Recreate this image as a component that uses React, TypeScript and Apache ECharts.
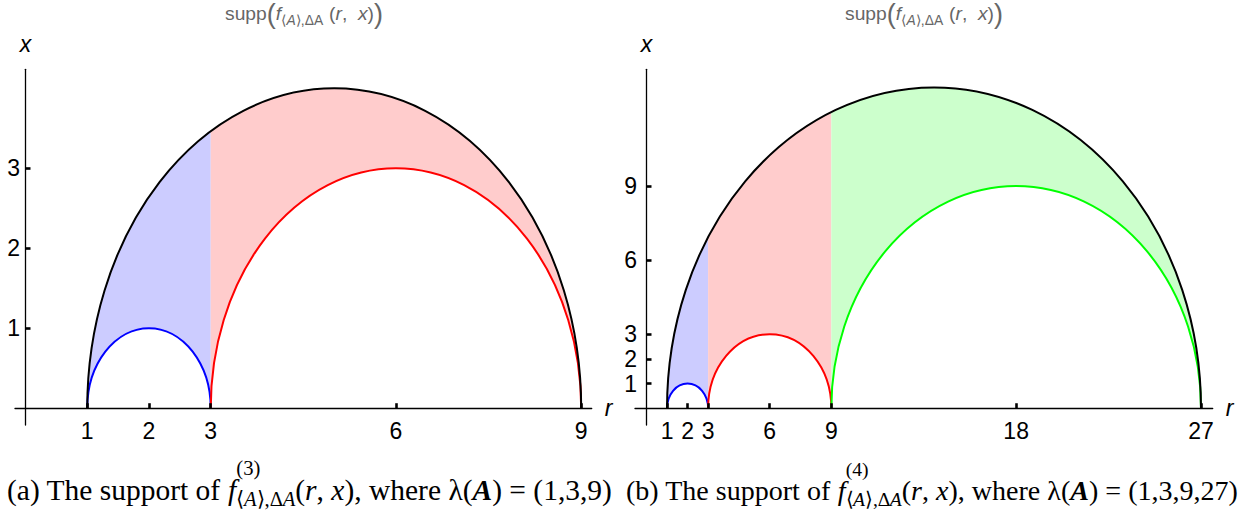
import React, { useEffect, useRef } from "react";
import * as echarts from "echarts";

// λ(A) break points of the two panels
const lambdaA = [1, 3, 9];
const lambdaB = [1, 3, 9, 27];
// tick labels
const rTicksA = [1, 2, 3, 6, 9];
const xTicksA = [1, 2, 3];
const rTicksB = [1, 2, 3, 6, 9, 18, 27];
const xTicksB = [1, 2, 3, 6, 9];

const FILLS = ["#ccccff", "#ffcccc", "#ccffcc"];
const LINES = ["#0000ff", "#ff0000", "#00ff00"];

type Piece = { t: string; s?: number; i?: boolean; b?: boolean; dy?: number; sup?: boolean; endSub?: boolean };

const titlePieces: Piece[] = [
  { t: "supp" },
  { t: "(", s: 1.4, dy: 0.14 },
  { t: "f", i: true },
  { t: "⟨", s: 0.72, dy: 0.22 },
  { t: "A", s: 0.72, i: true, dy: 0.22 },
  { t: "⟩,ΔA", s: 0.72, dy: 0.22 },
  { t: " (" },
  { t: "r", i: true },
  { t: ",  " },
  { t: "x", i: true },
  { t: ")" },
  { t: ")", s: 1.4, dy: 0.14 },
];

const captionPieces = (label: string, n: string, lam: string): Piece[] => [
  { t: `(${label}) The support of ` },
  { t: "f", i: true },
  { t: `(${n})`, s: 0.7, dy: -0.85, sup: true },
  { t: "⟨", s: 0.7, dy: 0.22 },
  { t: "A", s: 0.7, i: true, dy: 0.22 },
  { t: "⟩,Δ", s: 0.7, dy: 0.22 },
  { t: "A", s: 0.7, i: true, dy: 0.22, endSub: true },
  { t: "(" },
  { t: "r", i: true },
  { t: ", " },
  { t: "x", i: true },
  { t: "), where " },
  { t: "λ" },
  { t: "(" },
  { t: "A", i: true, b: true },
  { t: ") = (" + lam + ")" },
];

function layoutPieces(
  ctx: CanvasRenderingContext2D,
  pieces: Piece[],
  x0: number,
  baseline: number,
  targetWidth: number,
  baseSize: number,
  family: string,
  color: string
) {
  const fontOf = (p: Piece, size: number) =>
    `${p.i ? "italic " : ""}${p.b ? "bold " : ""}${size}px ${family}`;
  const widths = pieces.map((p) => {
    ctx.font = fontOf(p, baseSize * (p.s ?? 1));
    return ctx.measureText(p.t).width;
  });
  let x = 0;
  let supEnd = 0;
  const xs: number[] = [];
  pieces.forEach((p, k) => {
    xs.push(x);
    if (p.sup) {
      supEnd = x + widths[k];
    } else {
      x += widths[k];
      if (p.endSub) x = Math.max(x, supEnd);
    }
  });
  const scale = targetWidth / x;
  const size0 = baseSize * scale;
  return pieces.map((p, k) => {
    const size = size0 * (p.s ?? 1);
    return {
      type: "text",
      x: x0 + xs[k] * scale,
      y: baseline + (p.dy ?? 0) * size0 - 0.34 * size,
      silent: true,
      style: {
        text: p.t,
        fontSize: size,
        fontFamily: family,
        fontStyle: p.i ? "italic" : "normal",
        fontWeight: p.b ? "bold" : "normal",
        fill: color,
        align: "left",
        verticalAlign: "middle",
      },
    };
  });
}

function segData(lam: number[]) {
  const A = lam[0];
  const B = lam[lam.length - 1];
  const segs: number[][] = [];
  for (let i = 0; i < lam.length - 1; i++) segs.push([lam[i], lam[i + 1], A, B, i]);
  return { segs, outer: [[A, B]] };
}

const fillRender = (params: any, api: any) => {
  const a = api.value(0), b = api.value(1), A = api.value(2), B = api.value(3), idx = api.value(4);
  const C = (A + B) / 2, R = (B - A) / 2, c = (a + b) / 2, rr = (b - a) / 2;
  const yo = (r: number) => Math.sqrt(Math.max(0, R * R - (r - C) * (r - C)));
  const P = (r: number, x: number) => api.coord([r, x]);
  const o = P(C, 0), oTop = P(C, R), oRight = P(B, 0);
  const Rx = oRight[0] - o[0], Ry = o[1] - oTop[1];
  const i0 = P(c, 0), iTop = P(c, rr), iRight = P(b, 0);
  const rx = iRight[0] - i0[0], ry = i0[1] - iTop[1];
  const p1 = P(a, 0), p2 = P(a, yo(a)), p3 = P(b, yo(b)), p4 = P(b, 0);
  const f = (p: number[]) => `${p[0]} ${p[1]}`;
  const d = `M${f(p1)} L${f(p2)} A${Rx} ${Ry} 0 0 1 ${f(p3)} L${f(p4)} A${rx} ${ry} 0 0 0 ${f(p1)} Z`;
  return { type: "path", shape: { pathData: d }, style: { fill: FILLS[idx], stroke: "none" } };
};

const arcRender = (colorOf: (i: number) => string) => (params: any, api: any) => {
  const a = api.value(0), b = api.value(1);
  const c = (a + b) / 2, rr = (b - a) / 2;
  const p0 = api.coord([a, 0]), p1 = api.coord([b, 0]);
  const top = api.coord([c, rr]);
  const rx = (p1[0] - p0[0]) / 2, ry = p0[1] - top[1];
  const d = `M${p0[0]} ${p0[1]} A${rx} ${ry} 0 0 1 ${p1[0]} ${p1[1]}`;
  return {
    type: "path",
    shape: { pathData: d },
    style: { fill: "none", stroke: colorOf(params.dataIndex), lineWidth: 2 },
  };
};

export default function App() {
  const ref = useRef<HTMLDivElement>(null);
  useEffect(() => {
    if (!ref.current) return;
    const chart = echarts.init(ref.current, undefined, { renderer: "svg" });
    const canvas = document.createElement("canvas");
    const ctx = canvas.getContext("2d") as CanvasRenderingContext2D;

    const panels = [
      { lam: lambdaA, rT: rTicksA, xT: xTicksA, grid: { left: 15, top: 69.3, width: 576.7, height: 355.7 },
        rMin: -0.17, rMax: 9.17, xMin: -0.21, xMax: 4.24, yLabelMargin: -5 },
      { lam: lambdaB, rT: rTicksB, xT: xTicksB, grid: { left: 635, top: 69.3, width: 577.7, height: 355.7 },
        rMin: -0.56, rMax: 27.57, xMin: -0.68, xMax: 13.74, yLabelMargin: -2 },
    ];

    const sans = "'Liberation Sans', Arial, sans-serif";
    const xAxis: any[] = [];
    const yAxis: any[] = [];
    const series: any[] = [];
    panels.forEach((p, k) => {
      xAxis.push({
        type: "value", gridIndex: k, min: p.rMin, max: p.rMax, z: 5,
        axisLine: { onZero: true, lineStyle: { color: "#000", width: 1.3 } },
        axisTick: { inside: true, length: 5, customValues: p.rT, lineStyle: { color: "#000", width: 2.6 } },
        axisLabel: { customValues: p.rT, color: "#000", fontSize: 23, fontFamily: sans, margin: -6 },
        splitLine: { show: false },
        name: "r", nameLocation: "end", nameGap: 13,
        nameTextStyle: { color: "#000", fontSize: 23, fontStyle: "italic", fontFamily: sans, verticalAlign: "middle" },
      });
      yAxis.push({
        type: "value", gridIndex: k, min: p.xMin, max: p.xMax, z: 5,
        axisLine: { onZero: true, lineStyle: { color: "#000", width: 1.3 } },
        axisTick: { inside: true, length: 5, customValues: p.xT, lineStyle: { color: "#000", width: 2.6 } },
        axisLabel: { customValues: p.xT, color: "#000", fontSize: 23, fontFamily: sans, margin: p.yLabelMargin },
        splitLine: { show: false },
        name: "x", nameLocation: "end", nameGap: 14,
        nameTextStyle: { color: "#000", fontSize: 23, fontStyle: "italic", fontFamily: sans, align: "center" },
      });
      const { segs, outer } = segData(p.lam);
      series.push({
        type: "custom", xAxisIndex: k, yAxisIndex: k, z: 1, clip: false,
        renderItem: fillRender, data: segs,
      });
      series.push({
        type: "custom", xAxisIndex: k, yAxisIndex: k, z: 3, clip: false,
        renderItem: arcRender((i) => LINES[i]), data: segs,
      });
      series.push({
        type: "custom", xAxisIndex: k, yAxisIndex: k, z: 3, clip: false,
        renderItem: arcRender(() => "#000"), data: outer,
      });
    });

    const serif = "'Liberation Serif', 'Times New Roman', serif";
    const graphic: any[] = [
      ...layoutPieces(ctx, titlePieces, 225, 20, 158, 14, sans, "#666"),
      ...layoutPieces(ctx, titlePieces, 845, 20, 158, 14, sans, "#666"),
      ...layoutPieces(ctx, captionPieces("a", "3", "1,3,9"), 7, 500, 605, 23, serif, "#000"),
      ...layoutPieces(ctx, captionPieces("b", "4", "1,3,9,27"), 626, 500, 612, 23, serif, "#000"),
    ];

    chart.setOption({
      animation: false,
      backgroundColor: "#fff",
      grid: panels.map((p) => ({ ...p.grid, containLabel: false, outerBoundsMode: "none" })),
      xAxis,
      yAxis,
      series,
      graphic,
    });
    return () => chart.dispose();
  }, []);
  return (
    <div
      ref={ref}
      style={{ position: "absolute", left: 0, top: 0, width: 1245, height: 510 }}
    />
  );
}
